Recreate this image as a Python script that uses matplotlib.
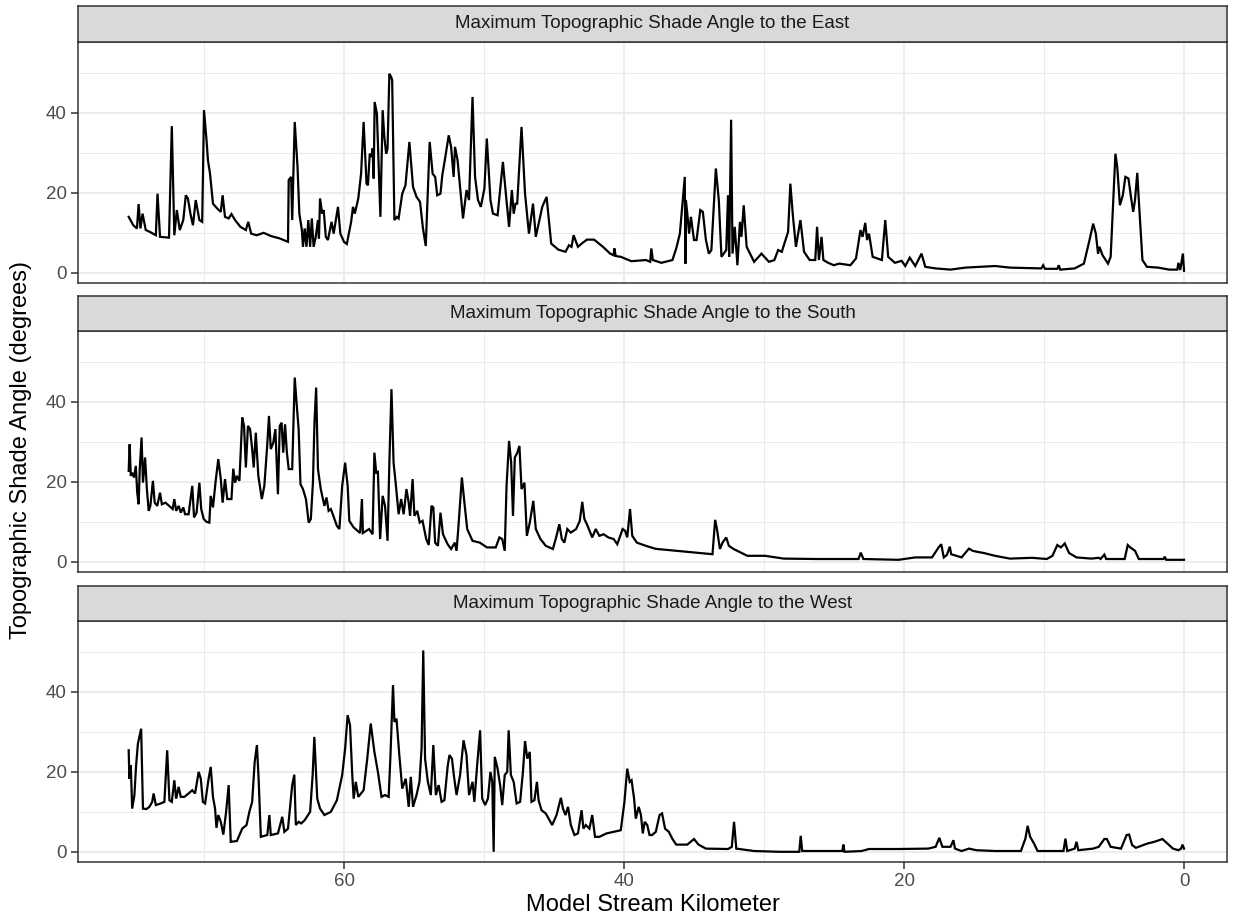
import matplotlib
matplotlib.use("Agg")
import matplotlib.pyplot as plt
from matplotlib.ticker import MultipleLocator

plt.rcParams['font.family'] = ['Liberation Sans', 'DejaVu Sans']

# Maximum topographic shade angle (degrees) vs model stream kilometer
east_km = [75.38, 75.05, 74.79, 74.67, 74.54, 74.39, 74.16, 73.90, 73.65, 73.44, 73.32, 73.14, 72.50, 72.30,
           72.12, 71.94, 71.73, 71.48, 71.30, 71.15, 70.97, 70.79, 70.59, 70.33, 70.13, 70.00, 69.82, 69.72,
           69.57, 69.36, 69.06, 68.80, 68.67, 68.50, 68.24, 68.04, 67.78, 67.40, 67.01, 66.84, 66.63, 66.25,
           65.74, 65.22, 64.59, 64.00, 63.95, 63.78, 63.70, 63.52, 63.32, 63.19, 63.01, 62.93, 62.81, 62.68,
           62.55, 62.42, 62.30, 62.17, 62.02, 61.86, 61.79, 61.71, 61.56, 61.45, 61.30, 61.15, 60.89, 60.74,
           60.43, 60.26, 60.00, 59.80, 59.49, 59.36, 59.23, 58.98, 58.78, 58.60, 58.39, 58.29, 58.16, 58.03,
           57.96, 57.88, 57.81, 57.65, 57.40, 57.24, 57.12, 56.99, 56.89, 56.76, 56.63, 56.56, 56.40, 56.22,
           56.10, 55.84, 55.61, 55.33, 55.07, 54.82, 54.57, 54.36, 54.16, 53.88, 53.67, 53.49, 53.34, 53.11,
           52.98, 52.78, 52.52, 52.35, 52.17, 52.07, 51.89, 51.50, 51.25, 51.07, 50.82, 50.64, 50.43, 50.23,
           49.97, 49.80, 49.54, 49.36, 49.03, 48.65, 48.44, 48.21, 48.01, 47.88, 47.75, 47.63, 47.32, 47.07,
           46.79, 46.50, 46.30, 45.84, 45.53, 45.20, 44.69, 44.18, 43.93, 43.75, 43.60, 43.29, 43.03, 42.65,
           42.14, 41.50, 40.99, 40.74, 40.69, 40.59, 40.23, 39.47, 38.44,
           38.13, 38.05, 37.94, 37.33, 36.54, 36.27, 36.01, 35.80, 35.66, 35.61, 35.58, 35.48, 35.35, 35.22,
           35.00, 34.82, 34.55, 34.37, 34.15, 33.94, 33.76, 33.44, 33.23, 33.04, 32.70, 32.57, 32.49, 32.35,
           32.25, 32.09, 31.90, 31.72, 31.61, 31.45, 31.24, 30.71, 30.18, 29.65, 29.26, 28.99, 28.73, 28.46,
           28.28, 28.12, 27.93, 27.72, 27.40, 27.14, 26.74, 26.34, 26.21, 26.08, 25.89, 25.76, 25.42, 25.02,
           24.62, 23.83, 23.43, 23.11, 22.96, 22.77, 22.64, 22.50, 22.24, 21.58, 21.34, 21.13, 20.65, 20.17,
           19.91, 19.59, 19.20, 18.75, 18.48, 17.74, 16.68, 15.62, 13.50, 12.44, 10.19, 10.06, 9.93, 9.05,
           8.95, 8.84, 7.81, 7.15, 6.75, 6.49, 6.30, 6.14, 6.04, 5.82, 5.43, 5.24, 4.90, 4.77, 4.58, 4.37,
           4.19, 3.97, 3.79, 3.63, 3.50, 3.34, 3.23, 2.97, 2.65, 1.85, 1.06, 0.48, 0.40, 0.27, 0.08, 0.00]
east_val = [14.0, 11.9, 11.1, 17.2, 11.1, 14.8, 10.7, 10.3, 9.8, 9.4, 19.8, 9.0, 8.8, 36.7,
            9.4, 15.7, 10.7, 13.2, 19.4, 18.6, 14.8, 11.9, 18.2, 13.2, 12.75, 40.7, 33.2, 28.2,
            24.8, 17.3, 16.1, 15.25, 19.4, 14.0, 13.6, 14.7, 13.2, 11.5, 10.7, 12.75, 9.8, 9.4,
            10.0, 9.2, 8.6, 7.75, 23.2, 24.0, 13.2, 37.75, 26.5, 14.8, 10.7, 6.5, 11.1, 6.5,
            13.2, 6.5, 13.6, 6.5, 9.0, 13.2, 8.6, 18.6, 14.8, 15.7, 9.0, 8.2, 12.75, 9.8,
            16.5, 9.8, 7.75, 7.2, 12.75, 16.5, 14.8, 18.6, 24.8, 37.75, 22.3, 21.9, 29.8, 29.0,
            31.1, 23.6, 42.75, 39.8, 14.0, 40.7, 34.0, 29.8, 31.1, 49.8, 49.0, 48.2, 13.2, 14.0,
            13.6, 19.8, 21.9, 32.75, 21.5, 19.0, 17.75, 11.1, 6.7, 32.75, 24.8, 24.0, 19.4, 19.8,
            24.4, 28.6, 34.4, 31.5, 24.0, 31.5, 28.2, 13.6, 20.7, 18.2, 44.0, 24.0, 18.2, 16.5,
            21.1, 33.6, 18.2, 14.8, 14.4, 27.75, 19.8, 11.5, 20.7, 14.8, 17.3, 17.3, 36.5, 19.8,
            9.8, 17.3, 9.0, 16.5, 19.0, 7.3, 5.8, 5.25, 6.9, 6.5, 9.4, 6.5, 7.3, 8.3,
            8.3, 6.5, 4.8, 4.4, 6.1, 4.2, 4.0, 2.9, 3.2,
            2.75, 6.1, 3.2, 2.5, 3.2, 6.1, 9.8, 18.2, 24.0, 2.3, 18.2, 14.8, 9.8, 14.0,
            8.2, 8.2, 15.7, 15.25, 8.2, 4.8, 5.7, 26.1, 18.2, 4.0, 5.7, 19.4, 4.0, 38.3,
            4.8, 11.5, 1.9, 12.75, 9.0, 16.9, 6.5, 2.75, 4.8, 2.75, 3.2, 5.7, 5.25, 8.2,
            10.25, 22.3, 14.0, 6.5, 13.2, 5.25, 3.2, 3.2, 11.5, 3.2, 9.0, 3.2, 2.5, 1.9,
            2.3, 1.9, 3.6, 10.7, 9.0, 12.5, 8.2, 9.8, 4.0, 3.2, 13.2, 4.0, 2.5, 3.0,
            1.7, 3.8, 1.7, 4.8, 1.5, 1.1, 0.8, 1.3, 1.7, 1.3, 1.1, 1.9, 1.0, 1.0,
            1.9, 0.8, 1.1, 2.3, 8.2, 12.3, 9.8, 4.8, 6.5, 4.4, 2.3, 4.0, 29.8, 26.5, 16.9, 19.4,
            24.0, 23.6, 19.0, 15.25, 18.2, 25.0, 18.2, 3.2, 1.5, 1.3, 0.8, 0.8, 2.5, 0.7, 4.8, 0.5]

south_km = [75.38, 75.31, 75.23, 75.13, 75.00, 74.87, 74.77, 74.67, 74.59, 74.46, 74.36, 74.21, 74.08, 73.95,
            73.83, 73.65, 73.52, 73.34, 73.14, 73.01, 72.75, 72.50, 72.24, 72.12, 71.99, 71.81, 71.66, 71.48,
            71.35, 71.10, 70.84, 70.71, 70.53, 70.33, 70.20, 70.02, 69.82, 69.62, 69.52, 69.36, 69.18, 68.98,
            68.80, 68.67, 68.50, 68.34, 68.04, 67.91, 67.78, 67.65, 67.47, 67.27, 67.14, 67.01, 66.86, 66.71,
            66.56, 66.45, 66.30, 66.12, 65.87, 65.69, 65.48, 65.36, 65.23, 65.05, 64.90, 64.72, 64.59, 64.46,
            64.34, 64.21, 64.08, 63.95, 63.70, 63.52, 63.39, 63.24, 63.11, 62.93, 62.72, 62.52, 62.37, 62.22,
            62.11, 61.99, 61.86, 61.66, 61.40, 61.25, 61.10, 60.94, 60.76, 60.51, 60.33, 60.13, 59.92, 59.74,
            59.62, 59.31, 58.85, 58.72, 58.65, 58.21, 57.96, 57.83, 57.70, 57.58, 57.42, 57.24, 57.07, 56.89,
            56.76, 56.61, 56.46, 56.30, 56.10, 55.92, 55.74, 55.54, 55.38, 55.28, 55.10, 54.97, 54.77, 54.59,
            54.39, 54.13, 53.95, 53.75, 53.62, 53.49, 53.29, 53.11, 52.93, 52.60, 52.35, 52.09, 51.96, 51.84,
            51.58, 51.40, 51.20, 50.82, 50.30, 49.79, 49.16, 48.90, 48.70, 48.52, 48.39, 48.21, 48.06, 47.93,
            47.80, 47.62, 47.47, 47.32, 47.11, 46.94, 46.73, 46.48, 46.30, 45.97, 45.59, 45.08, 44.82, 44.62,
            44.44, 44.26, 44.05, 43.80, 43.42, 43.16, 42.98, 42.83, 42.65, 42.27, 42.02, 41.76, 41.46, 41.12,
            40.74, 40.48, 40.10, 39.92, 39.77, 39.57, 39.41, 39.08, 38.44, 37.80,
            37.60, 36.27, 34.95, 33.68, 33.49, 33.36, 33.15, 32.96, 32.70, 32.51, 32.17, 31.77, 31.19, 29.92,
            28.59, 26.21, 23.25, 23.09, 22.90, 20.39, 19.20, 18.00, 17.53, 17.34, 17.16, 16.94, 16.73, 16.63,
            15.89, 15.36, 15.09, 14.77, 14.30, 13.50, 12.44, 10.86, 9.80, 9.40, 9.05, 8.79, 8.52, 8.21,
            7.68, 6.62, 6.09, 5.96, 5.69, 5.56, 4.24, 4.02, 3.84, 3.50, 3.23, 1.46, 1.38, 1.27, 0.00]
south_val = [22.75, 29.4, 21.5, 22.3, 21.1, 24.0, 17.3, 14.4, 23.2, 31.1, 19.8, 26.1, 18.2, 12.75,
             14.0, 20.25, 14.8, 14.0, 17.3, 14.4, 14.8, 14.0, 13.2, 15.7, 12.75, 14.0, 12.3, 13.6,
             11.9, 11.9, 19.0, 11.1, 12.3, 19.8, 13.2, 10.7, 10.0, 9.8, 16.5, 13.6, 19.8, 25.7,
             20.7, 14.8, 20.7, 15.7, 15.7, 23.3, 19.8, 21.5, 20.25, 36.1, 34.0, 23.6, 34.0, 33.2,
             28.2, 23.6, 32.3, 21.5, 15.7, 19.0, 29.4, 36.5, 28.2, 29.8, 33.2, 16.9, 34.0, 34.8,
             27.3, 34.4, 27.3, 23.2, 23.2, 46.1, 39.8, 33.2, 19.4, 18.2, 15.7, 9.8, 10.7, 19.8,
             34.8, 43.6, 23.2, 18.2, 14.0, 16.1, 12.75, 13.2, 11.5, 9.0, 8.2, 19.0, 24.8, 19.0,
             10.25, 8.6, 7.2, 15.7, 7.2, 8.2, 6.9, 27.3, 22.3, 22.5, 5.7, 16.5, 14.0, 5.25,
             24.8, 43.2, 24.8, 19.4, 11.9, 15.7, 11.9, 18.2, 14.8, 11.5, 20.7, 11.5, 12.75, 9.8,
             10.25, 5.7, 4.2, 14.0, 13.6, 4.8, 4.0, 12.3, 6.9, 4.4, 3.2, 4.8, 2.75, 8.2,
             21.1, 14.8, 8.2, 5.25, 4.8, 3.6, 3.6, 6.1, 5.7, 2.75, 19.0, 30.25, 24.8, 11.5,
             26.1, 27.3, 29.0, 18.2, 19.8, 6.5, 9.8, 15.25, 8.2, 5.7, 4.0, 3.2, 6.5, 9.4,
             5.7, 4.8, 8.2, 7.3, 8.2, 10.25, 15.0, 10.7, 9.4, 6.1, 8.2, 6.5, 6.9, 6.1,
             5.7, 4.4, 8.2, 7.75, 6.1, 13.2, 6.5, 4.8, 4.0, 3.3,
             3.2, 2.75, 2.3, 1.9, 10.5, 8.2, 3.2, 4.8, 6.1, 4.0, 3.2, 2.5, 1.5, 1.5,
             0.8, 0.7, 0.7, 2.3, 0.7, 0.5, 1.1, 1.1, 3.6, 4.4, 1.1, 1.7, 3.8, 1.9,
             1.1, 3.3, 2.75, 2.5, 2.2, 1.5, 0.8, 1.0, 0.7, 1.5, 4.2, 3.6, 4.6, 2.2,
             1.1, 0.8, 1.0, 0.7, 1.8, 0.7, 0.7, 4.2, 3.6, 2.75, 0.7, 0.7, 1.3, 0.5, 0.5]

west_km = [75.38, 75.33, 75.23, 75.13, 74.97, 74.85, 74.72, 74.59, 74.49, 74.36, 74.11, 73.90, 73.70, 73.60,
           73.44, 73.09, 72.83, 72.63, 72.47, 72.30, 72.12, 71.99, 71.81, 71.66, 71.40, 71.10, 70.84, 70.64,
           70.38, 70.23, 70.08, 69.92, 69.69, 69.52, 69.36, 69.21, 69.11, 68.98, 68.80, 68.62, 68.42, 68.24,
           68.09, 67.65, 67.27, 66.96, 66.76, 66.56, 66.38, 66.22, 66.10, 65.94, 65.48, 65.33, 65.23, 64.72,
           64.41, 64.26, 64.00, 63.70, 63.55, 63.44, 63.24, 63.06, 62.81, 62.42, 62.24, 62.12, 61.91, 61.71,
           61.40, 60.94, 60.51, 60.13, 59.92, 59.74, 59.57, 59.41, 59.31, 59.16, 58.98, 58.60, 58.34, 58.09,
           57.83, 57.58, 57.32, 57.07, 56.81, 56.68, 56.50, 56.40, 56.25, 56.05, 55.84, 55.59, 55.38, 55.23,
           55.07, 54.82, 54.61, 54.46, 54.34, 54.21, 54.01, 53.80, 53.62, 53.44, 53.24, 53.03, 52.83, 52.60,
           52.47, 52.29, 52.14, 51.96, 51.71, 51.46, 51.25, 51.07, 50.82, 50.69, 50.48, 50.28, 50.13, 49.92,
           49.72, 49.54, 49.41, 49.31, 49.23, 49.03, 48.85, 48.70, 48.52, 48.34, 48.24, 48.08, 47.88, 47.67,
           47.42, 47.22, 47.07, 46.91, 46.73, 46.61, 46.40, 46.22, 46.10, 45.89, 45.59, 45.13, 44.82, 44.51,
           44.36, 44.18, 44.00, 43.80, 43.54, 43.29, 43.03, 42.90, 42.73, 42.47, 42.27, 42.07, 41.76, 41.25,
           40.74, 40.23, 39.97, 39.77, 39.59, 39.46, 39.28, 39.16, 38.95,
           38.79, 38.66, 38.52, 38.34, 38.18, 37.99, 37.73, 37.46, 37.28, 37.07, 36.80, 36.54, 36.27, 35.48,
           35.00, 34.68, 34.15, 32.57, 32.30, 32.14, 31.98, 30.71, 28.86, 27.48, 27.38, 27.27, 24.41, 24.33,
           24.25, 23.03, 22.50, 20.39, 18.27, 17.74, 17.48, 17.26, 16.68, 16.47, 16.36, 15.89, 15.36, 14.83,
           13.50, 11.65, 11.33, 11.17, 10.99, 10.72, 10.46, 8.61, 8.47, 8.34, 7.81, 7.68, 7.55, 6.49,
           6.09, 5.69, 5.51, 5.24, 4.50, 4.10, 3.92, 3.71, 3.44, 2.91, 2.59, 2.12, 1.54, 1.32,
           0.79, 0.40, 0.21, 0.11, 0.00]
west_val = [25.4, 18.3, 21.7, 10.8, 14.2, 21.7, 27.1, 29.2, 30.8, 10.8, 10.7, 11.25, 12.5, 14.6,
            11.7, 12.1, 12.5, 25.4, 12.9, 12.5, 17.9, 13.3, 16.25, 13.75, 13.75, 14.6, 15.4, 14.6,
            20.0, 18.3, 12.5, 12.1, 17.9, 21.25, 13.75, 10.8, 6.0, 9.2, 7.5, 4.3, 10.0, 16.7,
            2.5, 2.7, 5.8, 6.7, 10.0, 12.5, 22.5, 26.7, 18.3, 3.75, 4.2, 9.2, 4.2, 4.6,
            8.75, 5.0, 5.8, 16.7, 19.3, 6.7, 7.5, 7.1, 7.9, 10.0, 19.2, 28.75, 13.3, 10.8,
            9.2, 10.0, 12.9, 19.2, 25.8, 34.2, 31.7, 19.2, 13.3, 17.5, 13.75, 15.4, 23.3, 32.1,
            25.0, 20.0, 13.75, 14.2, 13.75, 24.2, 41.7, 32.5, 33.3, 24.2, 15.8, 18.3, 11.25, 18.75,
            11.25, 14.2, 17.5, 25.8, 50.4, 23.3, 17.5, 14.2, 26.7, 14.2, 16.7, 12.5, 12.9, 21.25,
            24.2, 23.3, 18.75, 14.2, 19.2, 27.9, 24.2, 14.2, 17.5, 12.5, 22.1, 30.4, 13.3, 11.7,
            13.3, 20.0, 17.5, 0.0, 23.75, 20.8, 16.7, 11.7, 19.2, 20.0, 30.4, 19.2, 17.5, 12.1,
            12.5, 20.0, 27.7, 23.3, 25.0, 12.5, 12.9, 17.5, 12.9, 10.4, 9.6, 6.7, 9.2, 13.5,
            10.8, 9.2, 11.25, 6.7, 4.2, 4.6, 10.4, 5.8, 6.7, 5.8, 9.2, 3.75, 3.75, 4.6,
            5.0, 5.4, 12.5, 20.8, 17.5, 17.9, 13.3, 8.3, 11.25,
            9.2, 4.6, 7.5, 6.7, 4.2, 4.2, 5.0, 9.2, 9.6, 5.8, 5.0, 3.2, 1.8, 1.8,
            3.2, 1.8, 0.8, 0.7, 1.25, 7.5, 0.8, 0.2, 0.0, 0.0, 4.0, 0.2, 0.2, 1.8,
            0.0, 0.2, 0.7, 0.7, 0.8, 1.25, 3.5, 1.25, 1.25, 2.9, 0.8, 0.2, 0.8, 0.4,
            0.2, 0.2, 3.3, 6.5, 3.75, 2.1, 0.2, 0.2, 3.3, 0.2, 0.8, 2.5, 0.4, 0.8,
            1.25, 3.2, 3.2, 1.25, 0.8, 4.2, 4.3, 1.7, 1.0, 1.7, 2.1, 2.5, 3.2, 2.5,
            0.8, 0.4, 0.8, 1.8, 0.8]

facet_titles = ["Maximum Topographic Shade Angle to the East",
                "Maximum Topographic Shade Angle to the South",
                "Maximum Topographic Shade Angle to the West"]
series = [(east_km, east_val), (south_km, south_val), (west_km, west_val)]

W, H = 1238, 919
fig = plt.figure(figsize=(W / 100, H / 100), dpi=100)
fig.patch.set_facecolor("white")

left_px, right_px = 78, 1227
# (strip top, strip bottom / panel top, panel bottom) in pixels from the top
rows = [(6, 42, 283), (296, 331, 572), (586, 621, 862)]

border = "#333333"
grid = "#EBEBEB"


def frac_box(top, bottom):
    return [left_px / W, (H - bottom) / H, (right_px - left_px) / W, (bottom - top) / H]


axes = []
for i, ((s_top, p_top, p_bot), title, (km, val)) in enumerate(zip(rows, facet_titles, series)):
    ax = fig.add_axes(frac_box(p_top, p_bot))
    ax.plot(km, val, color="black", lw=1.6, solid_joinstyle="miter", zorder=3)
    ax.set_xlim(79.0, -3.07)
    ax.set_ylim(-2.55, 57.75)
    ax.xaxis.set_major_locator(MultipleLocator(20))
    ax.xaxis.set_minor_locator(MultipleLocator(10))
    ax.yaxis.set_major_locator(MultipleLocator(20))
    ax.yaxis.set_minor_locator(MultipleLocator(10))
    ax.grid(which="major", color=grid, lw=1.3, zorder=0)
    ax.grid(which="minor", color=grid, lw=0.7, zorder=0)
    ax.tick_params(which="minor", length=0)
    ax.tick_params(which="major", length=5, width=1.1, color=border, labelcolor="#4D4D4D",
                   labelsize=13.5, pad=3)
    for sp in ax.spines.values():
        sp.set_color(border)
        sp.set_linewidth(1.1)
    if i < 2:
        ax.tick_params(axis="x", which="major", length=0, labelbottom=False)
    ax.set_axisbelow(True)
    axes.append(ax)

    sax = fig.add_axes(frac_box(s_top, p_top))
    sax.set_facecolor("#D9D9D9")
    sax.set_xticks([])
    sax.set_yticks([])
    for sp in sax.spines.values():
        sp.set_color(border)
        sp.set_linewidth(1.1)
    sax.text(0.5, 0.5, title, ha="center", va="center", fontsize=13.5, color="#1A1A1A",
             transform=sax.transAxes)

fig.text((left_px + right_px) / 2 / W, 1 - 905 / H, "Model Stream Kilometer",
         ha="center", va="center", fontsize=17)
fig.text(21 / W, 1 - 450 / H, "Topographic Shade Angle (degrees)",
         ha="center", va="center", rotation=90, fontsize=17)

fig.savefig("out.png", dpi=100, facecolor="white")
